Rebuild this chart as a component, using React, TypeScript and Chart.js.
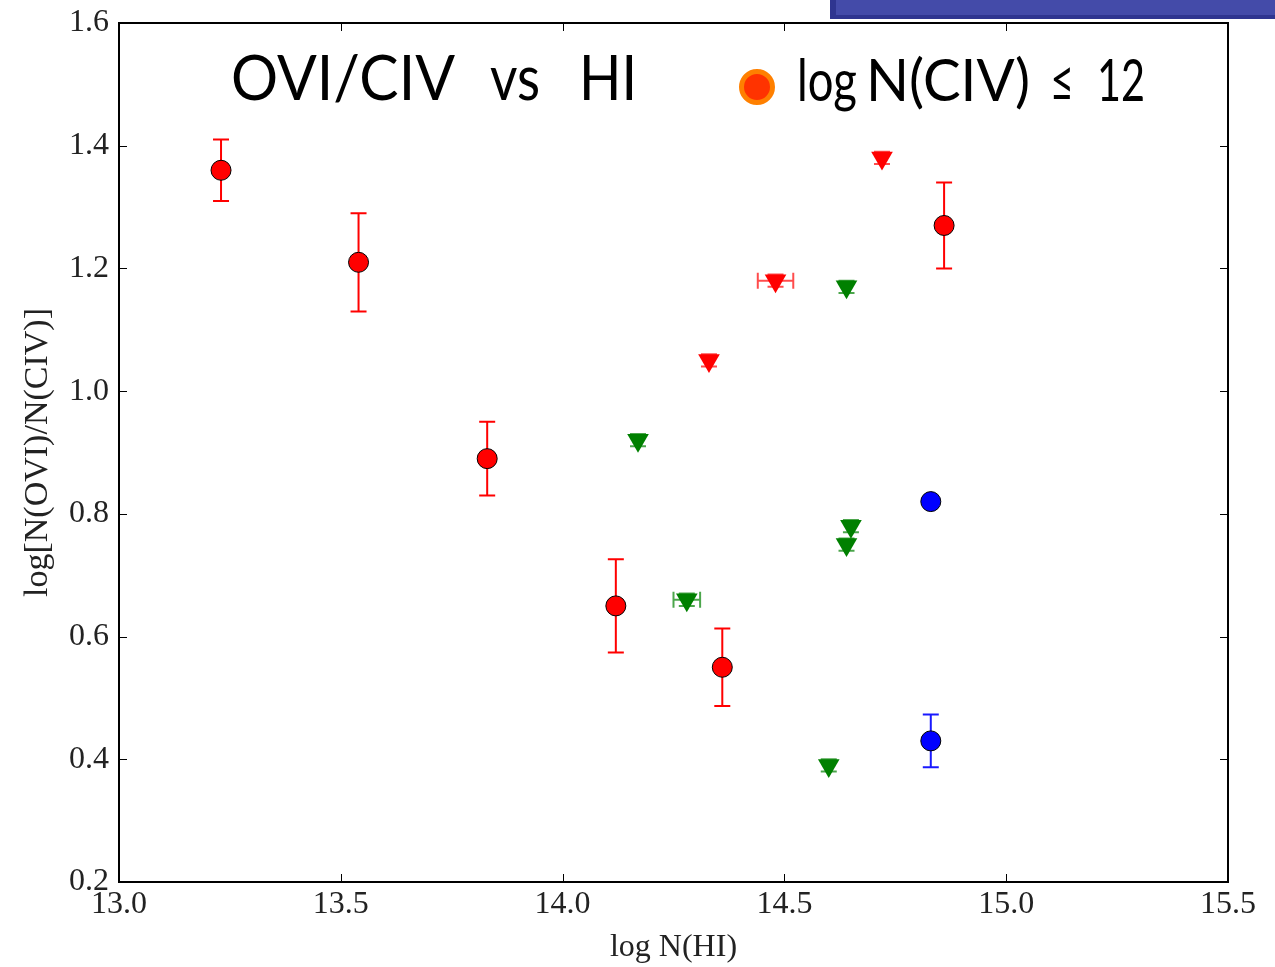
import React, { useEffect, useLayoutEffect, useRef } from "react";
import { Chart, registerables } from "chart.js";

Chart.register(...registerables);

// log N(HI) vs log[N(OVI)/N(CIV)]
const detX = [13.23, 13.54, 13.83, 14.12, 14.36, 14.86];
const detY = [1.36, 1.21, 0.89, 0.65, 0.55, 1.27];
const detYErr = [0.05, 0.08, 0.06, 0.076, 0.063, 0.07];

const blueX = [14.83, 14.83];
const blueY = [0.82, 0.43];
const blueYErr = [0.0, 0.043];

const redLimX = [14.72, 14.48, 14.33];
const redLimY = [1.38, 1.18, 1.05];
const redLimXErr = [0.0, 0.04, 0.0];
const redLimYErr = [0.01, 0.01, 0.01];

const greenLimX = [14.17, 14.28, 14.64, 14.65, 14.64, 14.6];
const greenLimY = [0.92, 0.66, 1.17, 0.78, 0.75, 0.39];
const greenLimXErr = [0.0, 0.03, 0.0, 0.0, 0.0, 0.0];
const greenLimYErr = [0.01, 0.01, 0.01, 0.01, 0.01, 0.01];

const xTicks = [13.0, 13.5, 14.0, 14.5, 15.0, 15.5];
const yTicks = [0.2, 0.4, 0.6, 0.8, 1.0, 1.2, 1.4, 1.6];

const pts = (xs: number[], ys: number[]) => xs.map((x, i) => ({ x, y: ys[i] }));

type ErrSet = {
  xs: number[];
  ys: number[];
  xerr: number[];
  yerr: number[];
  color: string;
};

const errSets: ErrSet[] = [
  { xs: detX, ys: detY, xerr: detX.map(() => 0), yerr: detYErr, color: "rgba(255,0,0,1)" },
  { xs: blueX, ys: blueY, xerr: blueX.map(() => 0), yerr: blueYErr, color: "rgba(0,0,255,0.9)" },
  { xs: redLimX, ys: redLimY, xerr: redLimXErr, yerr: redLimYErr, color: "rgba(255,0,0,0.7)" },
  { xs: greenLimX, ys: greenLimY, xerr: greenLimXErr, yerr: greenLimYErr, color: "rgba(0,128,0,0.7)" },
];

const errorBars = {
  id: "errorBars",
  beforeDatasetsDraw(chart: any) {
    const { ctx, scales } = chart;
    const xs = scales.x;
    const ys = scales.y;
    const cap = 8;
    ctx.save();
    ctx.lineWidth = 2;
    for (const s of errSets) {
      ctx.strokeStyle = s.color;
      s.xs.forEach((xv, i) => {
        const px = xs.getPixelForValue(xv);
        const py = ys.getPixelForValue(s.ys[i]);
        const ye = s.yerr[i];
        if (ye > 0) {
          const t = ys.getPixelForValue(s.ys[i] + ye);
          const b = ys.getPixelForValue(s.ys[i] - ye);
          ctx.beginPath();
          ctx.moveTo(px, t);
          ctx.lineTo(px, b);
          ctx.moveTo(px - cap, t);
          ctx.lineTo(px + cap, t);
          ctx.moveTo(px - cap, b);
          ctx.lineTo(px + cap, b);
          ctx.stroke();
        }
        const xe = s.xerr[i];
        if (xe > 0) {
          const l = xs.getPixelForValue(xv - xe);
          const r = xs.getPixelForValue(xv + xe);
          ctx.beginPath();
          ctx.moveTo(l, py);
          ctx.lineTo(r, py);
          ctx.moveTo(l, py - cap);
          ctx.lineTo(l, py + cap);
          ctx.moveTo(r, py - cap);
          ctx.lineTo(r, py + cap);
          ctx.stroke();
        }
      });
    }
    ctx.restore();
  },
};

// Frame plus inward tick marks on all four sides
const frame = {
  id: "frame",
  afterDraw(chart: any) {
    const { ctx, chartArea, scales } = chart;
    const { left, right, top, bottom } = chartArea;
    const len = 8;
    ctx.save();
    ctx.strokeStyle = "#000";
    ctx.lineWidth = 1;
    ctx.beginPath();
    for (const v of xTicks) {
      const px = Math.round(scales.x.getPixelForValue(v)) + 0.5;
      ctx.moveTo(px, bottom);
      ctx.lineTo(px, bottom - len);
      ctx.moveTo(px, top);
      ctx.lineTo(px, top + len);
    }
    for (const v of yTicks) {
      const py = Math.round(scales.y.getPixelForValue(v)) + 0.5;
      ctx.moveTo(left, py);
      ctx.lineTo(left + len, py);
      ctx.moveTo(right, py);
      ctx.lineTo(right - len, py);
    }
    ctx.stroke();
    ctx.lineWidth = 2;
    ctx.strokeRect(left, top, right - left, bottom - top);
    ctx.restore();
  },
};

const serif = "'Liberation Serif', 'DejaVu Serif', serif";
const sans = "Lato, 'Open Sans', sans-serif";

// Heading words: left edge and width of each word
type Piece = { text: string; left: number; width: number };
const titlePieces: Piece[] = [
  { text: "OVI/CIV", left: 231, width: 224 },
  { text: "vs", left: 490, width: 50 },
  { text: "HI", left: 579, width: 58 },
];
const legendPieces: Piece[] = [
  { text: "log", left: 797, width: 60 },
  { text: "N(CIV)", left: 866, width: 164 },
  { text: "\u2264", left: 1050, width: 24 },
  { text: "12", left: 1097, width: 48 },
];

function Word({ p, baseline, size }: { p: Piece; baseline: number; size: number }) {
  const el = useRef<HTMLSpanElement | null>(null);
  useLayoutEffect(() => {
    const s = el.current;
    if (!s) return;
    s.style.transform = "none";
    const w = s.getBoundingClientRect().width;
    if (w > 0) s.style.transform = `scaleX(${p.width / w})`;
  }, [p.width]);
  return (
    <span
      ref={el}
      style={{
        position: "absolute",
        left: p.left,
        top: baseline - 0.887 * size,
        fontFamily: sans,
        fontSize: size,
        lineHeight: 1,
        color: "#000",
        whiteSpace: "pre",
        transformOrigin: "0 0",
      }}
    >
      {p.text}
    </span>
  );
}

export default function App() {
  const ref = useRef<HTMLCanvasElement | null>(null);

  useEffect(() => {
    if (!ref.current) return;
    const circle = (data: any, fill: string) => ({
      type: "scatter" as const,
      data,
      pointStyle: "circle",
      pointRadius: 10,
      pointBackgroundColor: fill,
      pointBorderColor: "#000",
      pointBorderWidth: 1,
    });
    const tri = (data: any, fill: string) => ({
      type: "scatter" as const,
      data,
      pointStyle: "triangle",
      pointRotation: 180,
      pointRadius: 12.5,
      pointBackgroundColor: fill,
      pointBorderColor: fill,
      pointBorderWidth: 0,
    });
    const tickFont = { family: serif, size: 32 };
    const chart = new Chart(ref.current, {
      type: "scatter",
      data: {
        datasets: [
          tri(pts(redLimX, redLimY), "#ff0000"),
          tri(pts(greenLimX, greenLimY), "#008000"),
          circle(pts(detX, detY), "#ff0000"),
          circle(pts(blueX, blueY), "#0000ff"),
        ] as any,
      },
      options: {
        animation: false,
        responsive: false,
        devicePixelRatio: 1,
        layout: { padding: { left: 0, top: 23, right: 47, bottom: 0 } },
        plugins: { legend: { display: false }, tooltip: { enabled: false } },
        scales: {
          x: {
            type: "linear",
            min: 13.0,
            max: 15.5,
            afterBuildTicks: (s: any) => {
              s.ticks = xTicks.map((v) => ({ value: v }));
            },
            afterFit: (s: any) => {
              s.height = 85;
              s.paddingLeft = 0;
              s.paddingRight = 0;
            },
            grid: { display: false, drawTicks: false },
            border: { display: false },
            ticks: {
              font: tickFont,
              color: "#222",
              padding: 3,
              maxRotation: 0,
              autoSkip: false,
              callback: (v: any) => Number(v).toFixed(1),
            },
            title: {
              display: true,
              text: "log N(HI)",
              font: { family: serif, size: 32 },
              color: "#222",
              padding: { top: 0, bottom: 0 },
            },
          },
          y: {
            type: "linear",
            min: 0.2,
            max: 1.6,
            afterBuildTicks: (s: any) => {
              s.ticks = yTicks.map((v) => ({ value: v }));
            },
            afterFit: (s: any) => {
              s.width = 119;
              s.paddingTop = 0;
              s.paddingBottom = 0;
            },
            grid: { display: false, drawTicks: false },
            border: { display: false },
            ticks: {
              font: tickFont,
              color: "#222",
              padding: 10,
              autoSkip: false,
              callback: (v: any) => Number(v).toFixed(1),
            },
            title: {
              display: true,
              text: "log[N(OVI)/N(CIV)]",
              font: { family: serif, size: 34 },
              color: "#222",
              padding: { top: 18, bottom: 0 },
            },
          },
        },
      },
      plugins: [errorBars, frame],
    });
    return () => chart.destroy();
  }, []);

  return (
    <div
      style={{
        position: "fixed",
        left: 0,
        top: 0,
        width: 1275,
        height: 967,
        background: "#fff",
        overflow: "hidden",
      }}
    >
      <canvas ref={ref} width={1275} height={967} style={{ position: "absolute", left: 0, top: 0 }} />
      {/* slide header strip */}
      <div
        style={{
          position: "absolute",
          left: 830,
          top: 0,
          width: 445,
          height: 19,
          background: "#2f3590",
        }}
      />
      <div
        style={{
          position: "absolute",
          left: 836,
          top: 0,
          width: 439,
          height: 15,
          background: "#444ba9",
        }}
      />
      <div>
        {titlePieces.map((p) => (
          <Word key={p.text} p={p} baseline={100} size={61} />
        ))}
      </div>
      <div
        style={{
          position: "absolute",
          left: 739,
          top: 69,
          width: 26,
          height: 26,
          borderRadius: "50%",
          background: "#ff3300",
          border: "5px solid #ff8000",
        }}
      />
      <div>
        {legendPieces.map((p) => (
          <Word key={p.text} p={p} baseline={101} size={58} />
        ))}
      </div>
    </div>
  );
}
